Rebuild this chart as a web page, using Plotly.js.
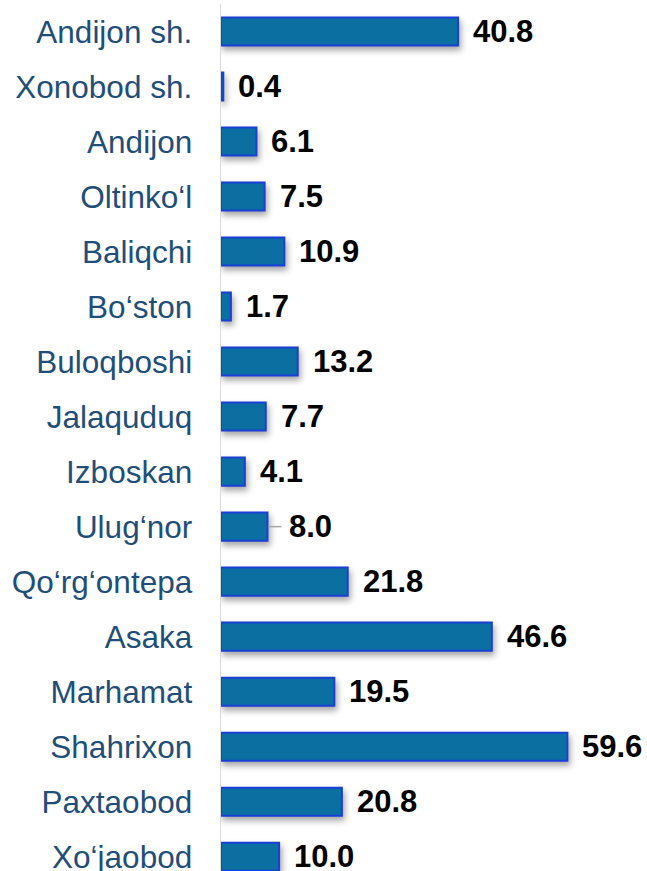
<!DOCTYPE html>
<html>
<head>
<meta charset="utf-8">
<script src="https://cdn.plot.ly/plotly-3.0.1.min.js"></script>
<style>
html,body{margin:0;padding:0;background:#fff;overflow:hidden;}
#chart{width:647px;height:871px;}
.trace.bars path{filter:drop-shadow(2px 4px 3px rgba(0,0,0,0.35));}
</style>
</head>
<body>
<div id="chart"></div>
<script>
const districts = ["Andijon sh.","Xonobod sh.","Andijon","Oltinko‘l","Baliqchi","Bo‘ston","Buloqboshi","Jalaquduq","Izboskan","Ulug‘nor","Qo‘rg‘ontepa","Asaka","Marhamat","Shahrixon","Paxtaobod","Xo‘jaobod"];
const values = [40.8,0.4,6.1,7.5,10.9,1.7,13.2,7.7,4.1,8.0,21.8,46.6,19.5,59.6,20.8,10.0];
const valueLabels = values.map(v => v.toFixed(1));
const leaderLineFor = ["Ulug‘nor"];

const trace = {
  type: 'bar',
  orientation: 'h',
  y: districts,
  x: values,
  width: 0.51,
  marker: {color: '#0B6FA1', line: {color: '#1A3FD6', width: 2}},
  hoverinfo: 'none'
};

const annotations = values.map((v, i) => ({
  x: v, y: districts[i], xref: 'x', yref: 'y',
  text: '<b>' + valueLabels[i] + '</b>',
  showarrow: false, xanchor: 'left', yanchor: 'middle',
  xshift: leaderLineFor.includes(districts[i]) ? 20 : 13, yshift: 0,
  font: {family: 'Liberation Sans, Arial, sans-serif', size: 31, color: '#000'}
}));

const shapes = leaderLineFor.map(name => {
  const i = districts.indexOf(name);
  return {
    type: 'line', xref: 'x', yref: 'y', xsizemode: 'pixel', xanchor: values[i],
    x0: 1, x1: 14, y0: districts[i], y1: districts[i],
    line: {color: '#A6A6A6', width: 1.5}
  };
});

const layout = {
  width: 647, height: 871,
  margin: {l: 221, r: 0, t: 4, b: 0},
  paper_bgcolor: '#fff', plot_bgcolor: '#fff',
  showlegend: false,
  xaxis: {range: [0, 73.3], visible: false, fixedrange: true},
  yaxis: {
    type: 'category',
    range: [15.26, -0.5],
    showline: true, linecolor: '#D9D9D9', linewidth: 1.5,
    showgrid: false, zeroline: false, ticks: '',
    ticklabelstandoff: 21,
    tickfont: {family: 'Liberation Sans, Arial, sans-serif', size: 31.5, color: '#1F4E79'}
  },
  shapes: shapes,
  annotations: annotations
};

Plotly.newPlot('chart', [trace], layout, {displayModeBar: false, staticPlot: true});
</script>
</body>
</html>
